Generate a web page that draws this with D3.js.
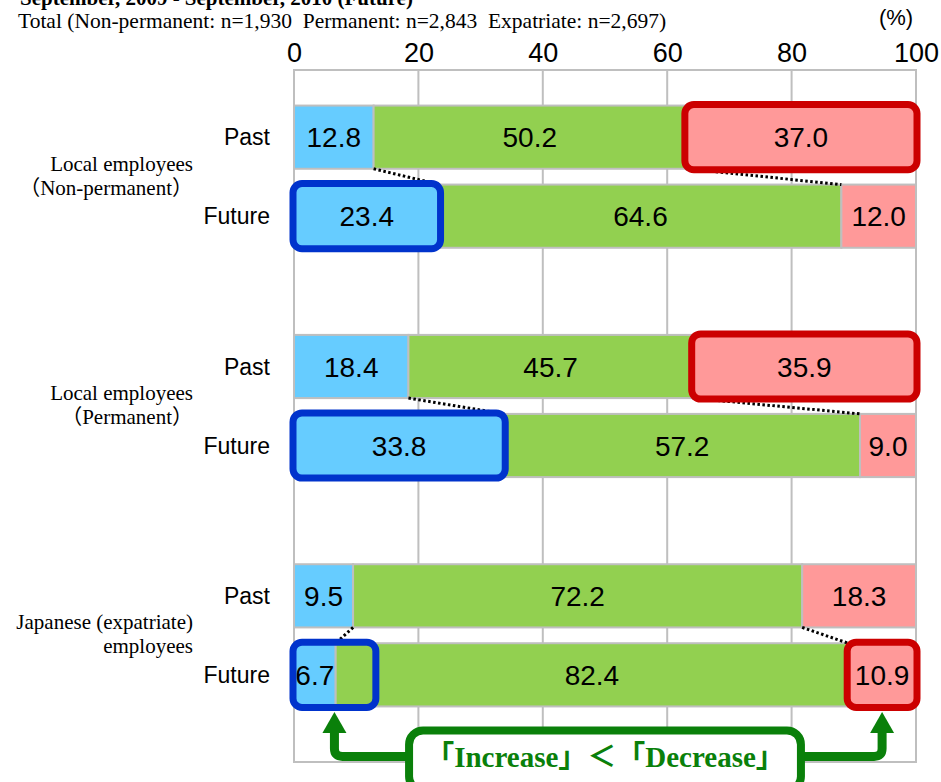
<!DOCTYPE html>
<html><head><meta charset="utf-8">
<script src="https://cdn.jsdelivr.net/npm/d3@7"></script>
<style>
html,body{margin:0;padding:0;background:#fff;}
svg{display:block;}
</style></head>
<body>
<script>
// ---------- data ----------
const groupLabels = [
  ["Local employees", "（Non-permanent）"],
  ["Local employees", "（Permanent）"],
  ["Japanese (expatriate)", "employees"]
];
const periods = ["Past", "Future"];
const seriesKeys = ["increase", "noChange", "decrease"];
// rows: group1 Past, group1 Future, group2 Past, group2 Future, group3 Past, group3 Future
const increaseValues = [12.8, 23.4, 18.4, 33.8, 9.5, 6.7];
const noChangeValues = [50.2, 64.6, 45.7, 57.2, 72.2, 82.4];
const decreaseValues = [37.0, 12.0, 35.9, 9.0, 18.3, 10.9];
const xTickValues = [0, 20, 40, 60, 80, 100];
const titleText = "September, 2009 - September, 2010 (Future)";
const subtitleText = "Total (Non-permanent: n=1,930\u00A0\u00A0Permanent: n=2,843\u00A0\u00A0Expatriate: n=2,697)";
const unitText = "(%)";
const calloutText = "「Increase」＜「Decrease」";
// highlighted segments: [row, series, extra extent to (data units) or null]
const highlights = [
  [0, "decrease", null],
  [1, "increase", null],
  [2, "decrease", null],
  [3, "increase", null],
  [5, "increase", 13.0],
  [5, "decrease", null]
];

// ---------- setup ----------
const W = 941, H = 782;
const colors = {increase: "#66ccff", noChange: "#92d050", decrease: "#ff9999"};
const hlColors = {increase: "#0033cc", decrease: "#cc0000"};
const green = "#0a800a";
const grid = "#bfbfbf";

const rows = increaseValues.map((v, i) => ({
  row: i, group: Math.floor(i / 2), period: periods[i % 2],
  increase: v, noChange: noChangeValues[i], decrease: decreaseValues[i]
}));

const svg = d3.select("body").append("svg").attr("width", W).attr("height", H);

const plotTop = 70, plotBottom = 762;
const x = d3.scaleLinear().domain([0, 100]).range([294, 916]);
const yGroup = d3.scaleBand().domain(d3.range(groupLabels.length)).range([62, 750]).padding(0);
const gbw = yGroup.bandwidth();
const yRow = d3.scaleBand().domain(periods).range([gbw / 2 - 79, gbw / 2 + 79]).paddingInner(0.2).paddingOuter(0.1);
const bh = yRow.bandwidth();
const rowY = r => yGroup(r.group) + yRow(r.period);

// titles
svg.append("text").attr("x", 20).attr("y", 5)
  .style("font", "bold 21px 'Liberation Serif','Times New Roman',serif").text(titleText);
svg.append("text").attr("x", 18).attr("y", 28)
  .style("font", "21.5px 'Liberation Serif','Times New Roman',serif").text(subtitleText);
svg.append("text").attr("x", 896).attr("y", 25).attr("text-anchor", "middle")
  .style("font", "22px 'Liberation Sans',Arial,sans-serif").text(unitText);

// axis (top)
const axis = d3.axisTop(x).tickValues(xTickValues).tickSize(0).tickPadding(0).tickFormat(d3.format("d"));
const ag = svg.append("g").attr("transform", `translate(0,${plotTop - 8})`).call(axis);
ag.select(".domain").remove();
ag.selectAll("text").style("font", "27px 'Liberation Sans',Arial,sans-serif").attr("fill", "#000").attr("dy", 0);

// gridlines + frame
svg.append("g").selectAll("line").data(xTickValues).join("line")
  .attr("x1", d => x(d)).attr("x2", d => x(d)).attr("y1", plotTop).attr("y2", plotBottom)
  .attr("stroke", grid).attr("stroke-width", 2);
svg.append("rect").attr("x", x(0)).attr("y", plotTop).attr("width", x(100) - x(0)).attr("height", plotBottom - plotTop)
  .attr("fill", "none").attr("stroke", grid).attr("stroke-width", 2);

// stacked bars
const stack = d3.stack().keys(seriesKeys)(rows);
const bars = svg.append("g");
stack.forEach(layer => {
  bars.selectAll(null).data(layer).join("rect")
    .attr("x", d => x(d[0])).attr("width", d => x(d[1]) - x(d[0]))
    .attr("y", d => rowY(d.data)).attr("height", bh)
    .attr("fill", colors[layer.key]).attr("stroke", grid).attr("stroke-width", 2);
});
stack.forEach(layer => {
  bars.selectAll(null).data(layer).join("text")
    .attr("x", d => x((d[0] + d[1]) / 2)).attr("y", d => rowY(d.data) + bh / 2)
    .attr("text-anchor", "middle").attr("dy", "0.36em")
    .style("font", "28px 'Liberation Sans',Arial,sans-serif").attr("fill", "#000")
    .text(d => d3.format(".1f")(d.data[layer.key]));
});

// series (dotted) connector lines
const conn = svg.append("g");
d3.range(groupLabels.length).forEach(g => {
  const p = rows[2 * g], f = rows[2 * g + 1];
  [[p.increase, f.increase], [p.increase + p.noChange, f.increase + f.noChange]].forEach(([a, b]) => {
    conn.append("line")
      .attr("x1", x(a)).attr("y1", rowY(p) + bh).attr("x2", x(b)).attr("y2", rowY(f))
      .attr("stroke", "#000").attr("stroke-width", 3).attr("stroke-dasharray", "2.5,2.5");
  });
});

// category labels
svg.append("g").selectAll("text").data(rows).join("text")
  .attr("x", 270).attr("y", d => rowY(d) + bh / 2).attr("dy", "0.35em").attr("text-anchor", "end")
  .style("font", "23px 'Liberation Sans',Arial,sans-serif").text(d => d.period);
const gl = svg.append("g");
groupLabels.forEach((lines, g) => {
  const cy = yGroup(g) + gbw / 2;
  lines.forEach((t, k) => {
    gl.append("text").attr("x", 193).attr("y", cy - 6 + (k) * 24).attr("text-anchor", "end")
      .style("font", "21px 'Liberation Serif','Times New Roman','Noto Sans CJK JP',serif").text(t);
  });
});

// highlight boxes
const hl = svg.append("g");
const boxInfo = {};
highlights.forEach(([r, key, extTo]) => {
  const layer = stack.find(l => l.key === key);
  const d = layer[r];
  const x0 = x(d[0]) - 1, x1 = x(extTo != null ? extTo : d[1]) + 1;
  const y0 = rowY(rows[r]) - 1, y1 = rowY(rows[r]) + bh + 1;
  boxInfo[r + key] = {cx: (x0 + x1) / 2, bottom: y1};
  hl.append("rect").attr("x", x0).attr("y", y0).attr("width", x1 - x0).attr("height", y1 - y0)
    .attr("rx", 9).attr("fill", "none").attr("stroke", hlColors[key]).attr("stroke-width", 7);
});

// green callout
const lastRow = rows[rows.length - 1];
const base = rowY(lastRow) + bh; // bottom of last bar
const ca = svg.append("g");
const bl = boxInfo["5increase"], br = boxInfo["5decrease"];
const shaftY = base + 50, tipY = bl.bottom + 4.5, headH = 21, headW = 12, rad = 8;
[bl, br].forEach((b, i) => {
  const sx = b.cx;
  const ex = i === 0 ? x(18.5) : x(81.5);
  const dir = i === 0 ? 1 : -1;
  ca.append("path")
    .attr("d", `M${ex},${shaftY} L${sx + dir * rad},${shaftY} Q${sx},${shaftY} ${sx},${shaftY - rad} L${sx},${tipY + headH - 1}`)
    .attr("fill", "none").attr("stroke", green).attr("stroke-width", 9);
  ca.append("path")
    .attr("d", `M${sx},${tipY} L${sx - headW},${tipY + headH} L${sx + headW},${tipY + headH} Z`)
    .attr("fill", green);
});
ca.append("rect").attr("x", x(18.5)).attr("y", base + 24).attr("width", x(81.5) - x(18.5)).attr("height", 60)
  .attr("rx", 14).attr("fill", "#fff").attr("stroke", green).attr("stroke-width", 8);
ca.append("text").attr("x", x(50)).attr("y", base + 61).attr("text-anchor", "middle")
  .style("font", "bold 29px 'Liberation Serif','Times New Roman','Noto Sans CJK JP',serif")
  .attr("fill", green).text(calloutText);
</script>
</body></html>
